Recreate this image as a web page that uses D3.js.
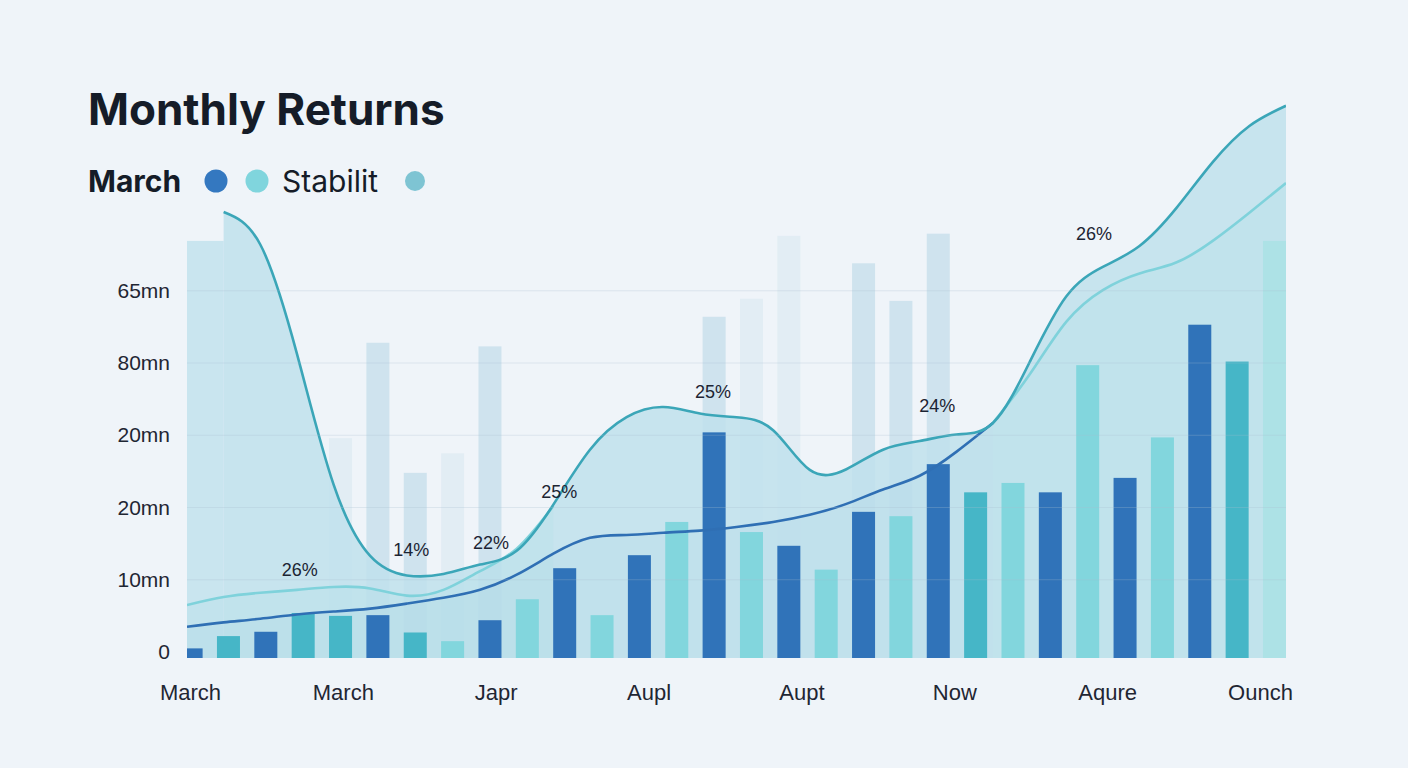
<!DOCTYPE html>
<html>
<head>
<meta charset="utf-8">
<script src="https://cdn.jsdelivr.net/npm/d3@7"></script>
<style>
  html, body { margin: 0; padding: 0; background: #eff4f9; }
  svg { display: block; }
</style>
</head>
<body>
<div id="chart"></div>
<script>
// foreground bars, one per slot
var barValues = [0.05, 0.22, 0.28, 0.54, 0.50, 0.51, 0.27, 0.15, 0.44, 0.73,
                 1.16, 0.51, 1.34, 1.80, 3.04, 1.66, 1.47, 1.14, 1.94, 1.88,
                 2.60, 2.21, 2.34, 2.21, 3.97, 2.41, 2.97, 4.53, 4.02, 5.69];
var barTones = ["dark", "teal", "dark", "teal", "teal", "dark", "teal", "light", "dark", "light",
                "dark", "light", "dark", "light", "dark", "light", "dark", "light", "dark", "light",
                "dark", "teal", "light", "dark", "light", "dark", "light", "dark", "teal", "pale"];

// faint bars behind the areas
var ghostValues = [null, null, null, null, 2.96, 4.28, 2.48, 2.75, 4.23, null,
                   null, null, null, null, 4.64, 4.89, 5.76, null, 5.38, 4.86,
                   5.79, null, null, null, null, null, null, null, null, null];
var ghostTones = ["b", "b", "b", "b", "w", "b", "b", "w", "b", "b",
                  "b", "b", "b", "b", "b", "w", "w", "b", "b", "b",
                  "b", "b", "b", "b", "b", "b", "b", "b", "b", "b"];
var ghostLead = 5.69;

// lines, sampled at 31 even steps
var topLine = [null, 6.09, 5.64, 4.13, 2.32, 1.33, 1.06, 1.08, 1.21, 1.40,
               2.04, 2.80, 3.25, 3.39, 3.30, 3.25, 3.07, 2.52, 2.53, 2.80,
               2.92, 3.01, 3.17, 4.01, 4.92, 5.33, 5.62, 6.14, 6.78, 7.28, 7.56];
var mistLine = [0.65, 0.76, 0.82, 0.86, 0.90, 0.88, 0.78, 0.86, 1.12, 1.43,
                2.02, null, null, null, null, null, null, null, null, null,
                null, null, 3.17, 3.84, 4.57, 5.01, 5.24, 5.39, 5.69, 6.08, 6.49];
var blueLine = [0.35, 0.41, 0.46, 0.52, 0.56, 0.60, 0.67, 0.75, 0.86, 1.07,
                1.36, 1.58, 1.62, 1.65, 1.68, 1.73, 1.80, 1.90, 2.05, 2.25,
                2.44, 2.77, 3.17, null, null, null, null, null, null, null, null];

var xLabels = ["March", "March", "Japr", "Aupl", "Aupt", "Now", "Aqure", "Ounch"];
var yTicks = [0, 1, 2, 3, 4, 5];
var yLabels = ["0", "10mn", "20mn", "20mn", "80mn", "65mn"];

var notes = ["26%", "14%", "22%", "25%", "25%", "24%", "26%"];
var noteAt = [3.08, 6.12, 8.30, 10.16, 14.36, 20.48, 24.76];
var noteVal = [1.14, 1.41, 1.51, 2.22, 3.60, 3.41, 5.79];

var colors = { dark: "#3073b9", teal: "#46b6c7", light: "#82d6dd", pale: "#ade2e6" };
var ghostColors = { b: "#cfe3ee", w: "#e2edf4" };

var margin = { top: 74, right: 122, bottom: 110, left: 187 },
    width = 1408 - margin.left - margin.right,
    height = 768 - margin.top - margin.bottom;

var svg = d3.select("#chart").append("svg")
    .attr("width", 1408)
    .attr("height", 768);

svg.append("rect").attr("width", 1408).attr("height", 768).attr("fill", "#eff4f9");

// title + legend
svg.append("text")
    .attr("x", 88).attr("y", 125)
    .style("font-family", "Inter, 'Noto Sans', sans-serif")
    .style("font-weight", 700)
    .style("font-size", "44px")
    .attr("fill", "#151c28")
    .text("Monthly Returns");

var legend = svg.append("g").attr("transform", "translate(88,181)");
legend.append("text")
    .attr("y", 11)
    .style("font-family", "Inter, 'Noto Sans', sans-serif")
    .style("font-weight", 700)
    .style("font-size", "30px")
    .attr("fill", "#151c28")
    .text("March");
legend.append("circle").attr("cx", 128).attr("r", 11.5).attr("fill", "#3478c0");
legend.append("circle").attr("cx", 169).attr("r", 11.5).attr("fill", "#80d5dd");
legend.append("text")
    .attr("x", 194).attr("y", 11)
    .style("font-family", "Inter, 'Noto Sans', sans-serif")
    .style("font-size", "30px")
    .attr("fill", "#151c28")
    .text("Stabilit");
legend.append("circle").attr("cx", 327).attr("r", 10).attr("fill", "#7ec4d3");

var g = svg.append("g")
    .attr("transform", "translate(" + margin.left + "," + margin.top + ")");

g.append("clipPath").attr("id", "plot")
  .append("rect")
    .attr("x", 0).attr("y", -80)
    .attr("width", width).attr("height", height + 80);

// scales
var x = d3.scaleBand()
    .domain(d3.range(barValues.length))
    .range([-7.4, width])
    .paddingInner(0.384)
    .paddingOuter(0);

var xl = d3.scaleLinear().domain([0, topLine.length - 1]).range([0, width]);

var y = d3.scaleLinear().domain([0, 8]).range([height - 6, 0]);

var xt = d3.scalePoint().domain(d3.range(xLabels.length)).range([3, width - 26]);

var plot = g.append("g").attr("clip-path", "url(#plot)");

// ghost bars
plot.selectAll(".ghost")
    .data(ghostValues.map(function (v, i) { return { i: i, v: v }; })
      .filter(function (d) { return d.v !== null; }))
  .enter().append("rect")
    .attr("class", "ghost")
    .attr("x", function (d) { return x(d.i); })
    .attr("width", x.bandwidth())
    .attr("y", function (d) { return y(d.v); })
    .attr("height", function (d) { return height - y(d.v); })
    .attr("fill", function (d) { return ghostColors[ghostTones[d.i]]; });

// areas
function series(arr) {
  return arr.map(function (v, i) { return { i: i, v: v }; });
}
var curve = d3.curveNatural;
var area = d3.area()
    .defined(function (d) { return d.v !== null; })
    .x(function (d) { return xl(d.i); })
    .y0(height)
    .y1(function (d) { return y(d.v); })
    .curve(curve);
var line = d3.line()
    .defined(function (d) { return d.v !== null; })
    .x(function (d) { return xl(d.i); })
    .y(function (d) { return y(d.v); })
    .curve(curve);

plot.append("rect")
    .attr("x", xl(0))
    .attr("width", xl(1) - xl(0))
    .attr("y", y(ghostLead))
    .attr("height", height - y(ghostLead))
    .attr("fill", "#c9e5ef");

plot.append("path")
    .datum(series(topLine))
    .attr("d", area)
    .attr("fill", "#bfe0ec")
    .attr("fill-opacity", 0.85);

plot.append("path")
    .datum(series(mistLine))
    .attr("d", area)
    .attr("fill", "#a9dbe6")
    .attr("fill-opacity", 0.18);

plot.append("path")
    .datum(series(blueLine))
    .attr("d", area)
    .attr("fill", "#9fcde2")
    .attr("fill-opacity", 0.12);

// grid
g.append("g")
  .selectAll("line")
    .data(yTicks.filter(function (t) { return t > 0; }))
  .enter().append("line")
    .attr("x1", 0).attr("x2", width)
    .attr("y1", function (d) { return y(d); })
    .attr("y2", function (d) { return y(d); })
    .attr("stroke", "#a9c0cf")
    .attr("stroke-opacity", 0.28)
    .attr("stroke-width", 1);

// foreground bars
plot.selectAll(".bar")
    .data(barValues)
  .enter().append("rect")
    .attr("class", "bar")
    .attr("x", function (d, i) { return x(i); })
    .attr("width", x.bandwidth())
    .attr("y", function (d) { return y(d); })
    .attr("height", function (d) { return height - y(d); })
    .attr("fill", function (d, i) { return colors[barTones[i]]; });

// lines
plot.append("path")
    .datum(series(blueLine))
    .attr("d", line)
    .attr("fill", "none")
    .attr("stroke", "#2f6fb4")
    .attr("stroke-width", 2.6);

plot.append("path")
    .datum(series(mistLine))
    .attr("d", line)
    .attr("fill", "none")
    .attr("stroke", "#7fd2db")
    .attr("stroke-width", 2.6);

plot.append("path")
    .datum(series(topLine))
    .attr("d", line)
    .attr("fill", "none")
    .attr("stroke", "#3ba6b8")
    .attr("stroke-width", 2.6);

// percent notes
g.selectAll(".note")
    .data(notes)
  .enter().append("text")
    .attr("class", "note")
    .attr("x", function (d, i) { return xl(noteAt[i]); })
    .attr("y", function (d, i) { return y(noteVal[i]); })
    .attr("text-anchor", "middle")
    .attr("dominant-baseline", "central")
    .style("font-family", "'Liberation Sans', Arial, sans-serif")
    .style("font-size", "18px")
    .attr("fill", "#1c2433")
    .text(function (d) { return d; });

// y axis labels
var yAxis = g.append("g")
    .call(d3.axisLeft(y)
      .tickValues(yTicks)
      .tickSize(0)
      .tickPadding(17)
      .tickFormat(function (d, i) { return yLabels[i]; }));
yAxis.select(".domain").remove();
yAxis.selectAll("text")
    .style("font-family", "'Liberation Sans', Arial, sans-serif")
    .style("font-size", "21px")
    .attr("fill", "#1f2633");

// x axis labels
var xAxis = g.append("g")
    .attr("transform", "translate(0," + height + ")")
    .call(d3.axisBottom(xt)
      .tickSize(0)
      .tickPadding(26)
      .tickFormat(function (d) { return xLabels[d]; }));
xAxis.select(".domain").remove();
xAxis.selectAll("text")
    .style("font-family", "'Liberation Sans', Arial, sans-serif")
    .style("font-size", "22px")
    .attr("fill", "#1f2633");
</script>
</body>
</html>
